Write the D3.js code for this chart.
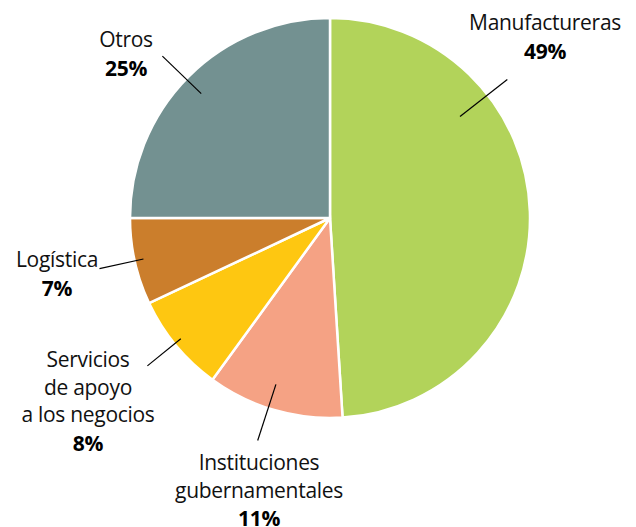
<!DOCTYPE html>
<html><head><meta charset="utf-8">
<script src="https://cdn.jsdelivr.net/npm/d3@7"></script>
<style>body{margin:0;background:#fff}svg{display:block}</style>
</head><body>
<script>
const categories = ["Manufactureras","Instituciones gubernamentales","Servicios de apoyo a los negocios","Logística","Otros"];
const values = [49, 11, 8, 7, 25];
const colors = ["#b2d35a","#f5a284","#fec711","#cb7e2c","#739191"];
const labelLines = [["Manufactureras"],["Instituciones","gubernamentales"],["Servicios","de apoyo","a los negocios"],["Logística"],["Otros"]];

const W=636,H=527,cx=330,cy=218,R=200;
const svg=d3.select("body").append("svg").attr("width",W).attr("height",H);
const g=svg.append("g").attr("transform",`translate(${cx},${cy})`);
const pie=d3.pie().sort(null).value(d=>d)(values);
const arc=d3.arc().innerRadius(0).outerRadius(R);
g.selectAll("path").data(pie).join("path").attr("d",arc)
 .attr("fill",(d,i)=>colors[i]).attr("stroke","#fff").attr("stroke-width",2.5);

// layout of leader lines (angle in degrees, radii) and label anchors
const leader=[
 {deg:52, r0:165, r1:225, lx:545, ly:30},
 {deg:198, r0:175, r1:234, lx:259, ly:470},
 {deg:231, r0:192, r1:235, lx:88, ly:367},
 {deg:257.6, r0:191, r1:236, lx:57, ly:267},
 {deg:314, r0:179, r1:233, lx:126, ly:47}
];
const fs=21, lh=27.5;
pie.forEach((d,i)=>{
  const L=leader[i];
  const a=L.deg*Math.PI/180;
  const p=r=>[Math.sin(a)*r,-Math.cos(a)*r];
  const [x0,y0]=p(L.r0),[x1,y1]=p(L.r1);
  g.append("line").attr("x1",x0).attr("y1",y0).attr("x2",x1).attr("y2",y1)
   .attr("stroke","#000").attr("stroke-width",1.2);
  const t=svg.append("text").attr("text-anchor","middle").attr("font-family","'Open Sans',sans-serif")
   .attr("font-size",fs).attr("fill","#111").attr("letter-spacing",-0.3);
  labelLines[i].forEach((s,k)=>t.append("tspan").attr("x",L.lx).attr("y",L.ly+k*lh).text(s));
  t.append("tspan").attr("x",L.lx).attr("y",L.ly+labelLines[i].length*lh+1)
   .attr("font-weight","bold").attr("fill","#000").text(values[i]+"%");
});
</script>
</body></html>
